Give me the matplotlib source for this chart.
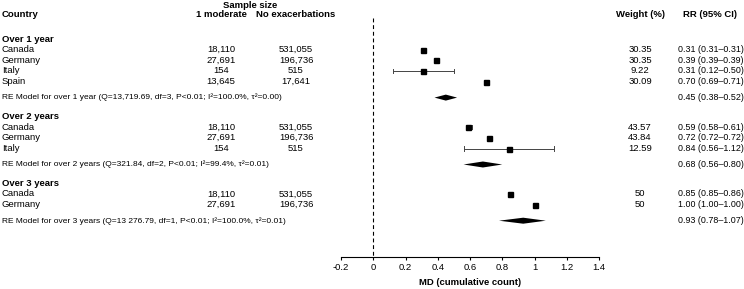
import matplotlib.pyplot as plt
from matplotlib.transforms import blended_transform_factory
from matplotlib.patches import Polygon

plt.rcParams['font.family'] = ['Liberation Sans', 'DejaVu Sans']

groups = ['Over 1 year', 'Over 2 years', 'Over 3 years']
countries = [['Canada', 'Germany', 'Italy', 'Spain'],
             ['Canada', 'Germany', 'Italy'],
             ['Canada', 'Germany']]
moderate = [['18,110', '27,691', '154', '13,645'],
            ['18,110', '27,691', '154'],
            ['18,110', '27,691']]
no_exac = [['531,055', '196,736', '515', '17,641'],
           ['531,055', '196,736', '515'],
           ['531,055', '196,736']]
weights = [['30.35', '30.35', '9.22', '30.09'],
           ['43.57', '43.84', '12.59'],
           ['50', '50']]
rr = [[0.31, 0.39, 0.31, 0.70], [0.59, 0.72, 0.84], [0.85, 1.00]]
rr_lo = [[0.31, 0.39, 0.12, 0.69], [0.58, 0.72, 0.56], [0.85, 1.00]]
rr_hi = [[0.31, 0.39, 0.50, 0.71], [0.61, 0.72, 1.12], [0.86, 1.00]]
re_text = ['RE Model for over 1 year (Q=13,719.69, df=3, P<0.01; I\u00b2=100.0%, \u03c4\u00b2=0.00)',
           'RE Model for over 2 years (Q=321.84, df=2, P<0.01; I\u00b2=99.4%, \u03c4\u00b2=0.01)',
           'RE Model for over 3 years (Q=13 276.79, df=1, P<0.01; I\u00b2=100.0%, \u03c4\u00b2=0.01)']
re_est = [0.45, 0.68, 0.93]
re_lo = [0.38, 0.56, 0.78]
re_hi = [0.52, 0.80, 1.07]

W, H = 744, 289
fig = plt.figure(figsize=(W / 100, H / 100), dpi=100)
ax = fig.add_axes([341 / W, (H - 257) / H, 258 / W, 257 / H])
ax.set_xlim(-0.2, 1.4)
ax.set_ylim(257, 0)
tr = blended_transform_factory(fig.transFigure, ax.transData)

fs = 6.8
fs_small = 6.0
fs_rr = 6.4


def txt(px, y, s, ha='left', bold=False, size=fs):
    ax.text(px / W, y, s, transform=tr, ha=ha, va='center', fontsize=size,
            fontweight='bold' if bold else 'normal', clip_on=False)


# headers
txt(250, 5, 'Sample size', ha='center', bold=True)
txt(2, 14.5, 'Country', bold=True)
txt(221, 14.5, '1 moderate', ha='center', bold=True)
txt(296, 14.5, 'No exacerbations', ha='center', bold=True)
txt(640, 14.5, 'Weight (%)', ha='center', bold=True)
txt(710, 14.5, 'RR (95% CI)', ha='center', bold=True)

y = 39
for g in range(len(groups)):
    txt(2, y, groups[g], bold=True)
    y += 10.5
    for i in range(len(countries[g])):
        txt(2, y, countries[g][i])
        txt(221, y, moderate[g][i], ha='center')
        txt(296, y, no_exac[g][i], ha='center')
        txt(640, y, weights[g][i], ha='center')
        txt(711, y, f'{rr[g][i]:.2f} ({rr_lo[g][i]:.2f}\u2013{rr_hi[g][i]:.2f})',
            ha='center', size=fs_rr)
        if rr_hi[g][i] - rr_lo[g][i] > 0.03:
            ax.plot([rr_lo[g][i], rr_hi[g][i]], [y, y], color='#444444', lw=0.7)
            for e in (rr_lo[g][i], rr_hi[g][i]):
                ax.plot([e, e], [y - 2.2, y + 2.2], color='#444444', lw=0.7)
        ax.plot(rr[g][i], y, marker='s', color='black', markersize=3.6)
        y += 10.7
    y += 5.3
    txt(2, y, re_text[g], size=fs_small)
    txt(711, y, f'{re_est[g]:.2f} ({re_lo[g]:.2f}\u2013{re_hi[g]:.2f})', ha='center', size=fs_rr)
    ax.add_patch(Polygon([(re_lo[g], y), (re_est[g], y - 3), (re_hi[g], y), (re_est[g], y + 3)],
                         closed=True, color='black', lw=0))
    y += 19

ax.plot([0, 0], [18, 257], color='black', lw=0.8, linestyle=(0, (3.5, 2.5)))

for s in ['top', 'right', 'left']:
    ax.spines[s].set_visible(False)
ax.spines['bottom'].set_linewidth(0.8)
ax.set_yticks([])
ax.set_xticks([-0.2, 0, 0.2, 0.4, 0.6, 0.8, 1, 1.2, 1.4])
ax.set_xticklabels(['-0.2', '0', '0.2', '0.4', '0.6', '0.8', '1', '1.2', '1.4'])
ax.tick_params(axis='x', labelsize=fs, length=2.5, width=0.8, pad=2)
ax.set_xlabel('MD (cumulative count)', fontsize=fs, fontweight='bold', labelpad=4)

fig.savefig('out.png', dpi=100)
